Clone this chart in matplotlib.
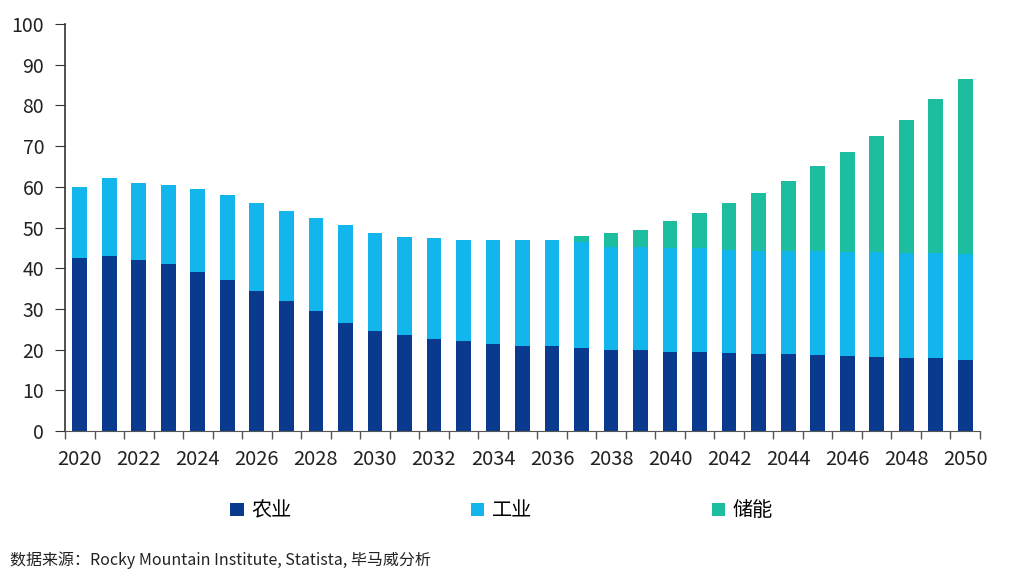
import matplotlib
matplotlib.use("Agg")
import matplotlib.pyplot as plt
from matplotlib.patches import Patch
import numpy as np

plt.rcParams['font.family'] = ['Noto Sans CJK SC', 'DejaVu Sans']

years = list(range(2020, 2051))
agriculture = [42.5, 43.0, 42.0, 41.0, 39.0, 37.0, 34.5, 32.0, 29.5, 26.5,
               24.5, 23.5, 22.5, 22.0, 21.5, 21.0, 21.0, 20.5, 20.0, 20.0,
               19.5, 19.5, 19.2, 19.0, 19.0, 18.7, 18.5, 18.2, 18.0, 18.0, 17.5]
industry_top = [60.0, 62.2, 61.0, 60.4, 59.5, 58.0, 56.0, 54.0, 52.3, 50.6,
                48.6, 47.7, 47.4, 46.9, 46.9, 47.0, 47.0, 46.4, 45.2, 45.2,
                45.0, 45.0, 44.5, 44.3, 44.3, 44.2, 44.0, 44.0, 43.7, 43.7, 43.5]
totals = [60.0, 62.2, 61.0, 60.4, 59.5, 58.0, 56.0, 54.0, 52.3, 50.6,
          48.6, 47.7, 47.4, 46.9, 46.9, 47.0, 47.0, 48.0, 48.6, 49.5,
          51.5, 53.5, 56.0, 58.5, 61.5, 65.0, 68.5, 72.5, 76.5, 81.5, 86.5]
series_names = ["农业", "工业", "储能"]
colors = ["#0A3A8E", "#12B5EC", "#1DBD9F"]
source = "数据来源：Rocky Mountain Institute, Statista, 毕马威分析"

ag = np.array(agriculture)
industry = np.array(industry_top) - ag
storage = np.array(totals) - np.array(industry_top)

fig = plt.figure(figsize=(10.24, 5.76), dpi=100)
ax = fig.add_axes([0.0635, 0.2517, 0.8935, 0.7066])

w = 0.5
ax.bar(years, ag, width=w, color=colors[0])
ax.bar(years, industry, width=w, bottom=ag, color=colors[1])
ax.bar(years, storage, width=w, bottom=ag + industry, color=colors[2])

ax.set_xlim(years[0] - 0.5, years[-1] + 0.5)
ax.set_ylim(0, 100)
ax.set_yticks(range(0, 101, 10))
ax.set_xticks([y for y in years if y % 2 == 0])
ax.set_xticks([y - 0.5 for y in years] + [years[-1] + 0.5], minor=True)
ax.tick_params(axis='x', which='major', length=0, labelsize=14.5, pad=13, colors='#222222')
ax.tick_params(axis='x', which='minor', length=6, color='#555555', width=1)
ax.tick_params(axis='y', length=7, labelsize=14, pad=8, colors='#222222', color='#333333')

for s in ['top', 'right']:
    ax.spines[s].set_visible(False)
ax.spines['left'].set_color('#333333')
ax.spines['bottom'].set_color('#555555')
ax.spines['left'].set_linewidth(1.2)

handles = [Patch(facecolor=c, edgecolor='none') for c in colors]
fig.legend(handles, series_names, loc='center', bbox_to_anchor=(0.49, 0.113),
           ncol=3, frameon=False, fontsize=14.5, handlelength=0.65, handleheight=0.65,
           handletextpad=0.4, columnspacing=8.9)

fig.text(0.01, 0.027, source, fontsize=11.5, va='center', ha='left', color='#222222')

fig.savefig("out.png", dpi=100)
